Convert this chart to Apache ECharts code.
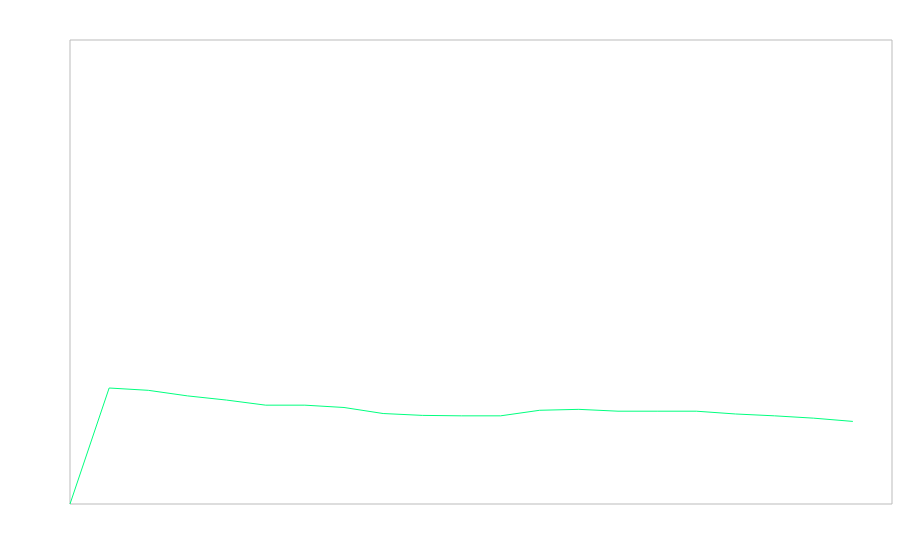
<!DOCTYPE html>
<html>
<head>
<meta charset="utf-8">
<script src="https://cdn.jsdelivr.net/npm/echarts@6/dist/echarts.min.js"></script>
<style>html,body{margin:0;padding:0;background:#fff}#c{width:900px;height:560px}</style>
</head>
<body>
<div id="c"></div>
<script>
var categories = ['0','1','2','3','4','5','6','7','8','9','10','11','12','13','14','15','16','17','18','19','20','21'];
var seriesValues = [0, 25.0, 24.5, 23.3, 22.4, 21.3, 21.3, 20.8, 19.5, 19.1, 19.0, 19.0, 20.2, 20.4, 20.0, 20.0, 20.0, 19.4, 19.0, 18.5, 17.8];
var yMin = 0, yMax = 100;

var chart = echarts.init(document.getElementById('c'), null, {renderer: 'canvas'});
chart.setOption({
  animation: false,
  backgroundColor: '#fff',
  grid: {left: 70, top: 40, right: 8, bottom: 56, show: true, borderColor: '#bbb', borderWidth: 1, backgroundColor: 'transparent'},
  xAxis: {type: 'category', data: categories, boundaryGap: false, show: false},
  yAxis: {type: 'value', min: yMin, max: yMax, show: false},
  series: [{
    type: 'line',
    data: seriesValues,
    symbol: 'none',
    lineStyle: {color: '#00ff7f', width: 1},
    itemStyle: {color: '#00ff7f'}
  }]
});
</script>
</body>
</html>
